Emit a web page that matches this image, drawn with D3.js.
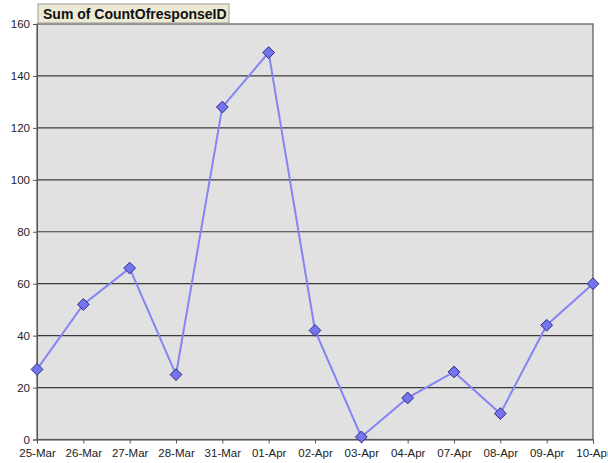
<!DOCTYPE html>
<html><head><meta charset="utf-8">
<script src="https://cdn.jsdelivr.net/npm/d3@7"></script>
<style>body{margin:0;background:#fff;} text{font-family:Arial,"Liberation Sans",sans-serif;}</style>
</head><body><svg id="c" width="608" height="463"></svg>
<script>
const categories = ["25-Mar","26-Mar","27-Mar","28-Mar","31-Mar","01-Apr","02-Apr","03-Apr","04-Apr","07-Apr","08-Apr","09-Apr","10-Apr"];
const values = [27,52,66,25,128,149,42,1,16,26,10,44,60];
const yTicks = [0,20,40,60,80,100,120,140,160];
const title = "Sum of CountOfresponseID";

const svg = d3.select("#c");
const L = 37, R = 593, T = 24, B = 439.5;
const x = d3.scalePoint().domain(categories).range([L, R]);
const y = d3.scaleLinear().domain([0,160]).range([B, T]);

svg.append("rect").attr("x",L).attr("y",T).attr("width",R-L).attr("height",B-T).attr("fill","#e1e1e1");
svg.append("g").selectAll("line").data(yTicks.filter(d=>d>0 && d<160)).join("line")
  .attr("x1",L).attr("x2",R).attr("y1",d=>y(d)).attr("y2",d=>y(d))
  .attr("stroke","#3a3a3a").attr("stroke-width",1.2);
svg.append("rect").attr("x",L).attr("y",T).attr("width",R-L).attr("height",B-T)
  .attr("fill","none").attr("stroke","#555").attr("stroke-width",1.2);

const ya = svg.append("g").attr("transform",`translate(${L},0)`)
  .call(d3.axisLeft(y).tickValues(yTicks).tickSize(4).tickPadding(3));
ya.select(".domain").attr("stroke","#555");
ya.selectAll("line").attr("stroke","#555");
ya.selectAll("text").attr("font-size",11.5).attr("fill","#222").style("font-family","Arial, 'Liberation Sans', sans-serif");

const xa = svg.append("g").attr("transform",`translate(0,${B})`)
  .call(d3.axisBottom(x).tickSize(4).tickPadding(5));
xa.select(".domain").attr("stroke","#555");
xa.selectAll("line").attr("stroke","#555");
xa.selectAll("text").attr("font-size",11.5).attr("fill","#222").style("font-family","Arial, 'Liberation Sans', sans-serif");

const line = d3.line().x((d,i)=>x(categories[i])).y(d=>y(d));
svg.append("path").datum(values).attr("d",line).attr("fill","none")
  .attr("stroke","#8484f4").attr("stroke-width",2);

svg.append("g").selectAll("path").data(values).join("path")
  .attr("d",d3.symbol().type(d3.symbolDiamond2).size(88))
  .attr("transform",(d,i)=>`translate(${x(categories[i])},${y(d)})`)
  .attr("fill","#7474f0").attr("stroke","#2a2a80").attr("stroke-width",1);

const tg = svg.append("g");
tg.append("rect").attr("x",38).attr("y",4).attr("width",191).attr("height",19)
  .attr("fill","#ece9d4").attr("stroke","#999").attr("stroke-width",1);
tg.append("text").attr("x",43).attr("y",18.5).attr("font-size",14).attr("font-weight","bold")
  .attr("fill","#111").text(title);
</script></body></html>
